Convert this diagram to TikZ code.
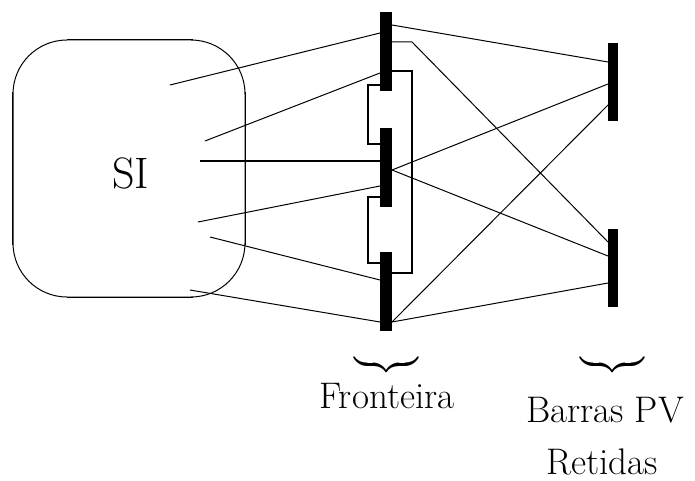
\documentclass[tikz,border=0pt]{standalone}
\usepackage{amsmath}
\usepackage{fontspec}
\begin{document}
\begin{tikzpicture}[x=0.5pt,y=-0.5pt,
  thinline/.style={line width=0.5pt},
  thickline/.style={line width=1pt},
  fbar/.style={fill=black,draw=none,minimum width=6pt,minimum height=39.5pt,inner sep=0pt,outer sep=0pt},
  pvbar/.style={fill=black,draw=none,minimum width=5pt,minimum height=39pt,inner sep=0pt,outer sep=0pt},
  lbl/.style={font=\fontsize{18.5}{22}\selectfont,inner sep=0pt},
  brc/.style={font=\fontsize{15}{18}\selectfont,inner sep=0pt},
]
\useasboundingbox (0,0) rectangle (695,481);

% internal system: rounded box, thin corners and heavier straight sides
\node[draw,thinline,rounded corners=27pt,minimum width=116pt,minimum height=128.5pt,inner sep=0pt] (si) at (129,168.5) {};
\draw[line width=0.9pt] ([yshift=-26.5pt]si.north west) -- ([yshift=26.5pt]si.south west);
\draw[line width=0.9pt] ([yshift=-26.5pt]si.north east) -- ([yshift=26.5pt]si.south east);
\draw[line width=0.9pt] ([xshift=27pt]si.north west) -- ([xshift=-26.5pt]si.north east);
\draw[line width=0.9pt] ([xshift=27pt]si.south west) -- ([xshift=-26.5pt]si.south east);
\node[font=\fontsize{22}{26}\selectfont,inner sep=0pt,anchor=base] (silbl) at (130.5,188) {SI};

% boundary buses
\node[fbar] (b1) at (386,51.5) {};
\node[fbar] (b2) at (386,167.5) {};
\node[fbar] (b3) at (386,291) {};

% retained PV buses
\node[pvbar] (pa) at (613,82) {};
\node[pvbar] (pb) at (613,268) {};

% connections from inside the internal system
\coordinate (s1) at (170,85);
\coordinate (s2) at (205,141);
\coordinate (s3) at (200,161);
\coordinate (s4) at (198,222);
\coordinate (s5) at (210,237);
\coordinate (s6) at (190,290);
\draw[thinline] (s1) -- (b1.west |- 0,33);
\draw[thinline] (s2) -- (b1.west |- 0,73);
\draw[thickline] (s3) -- (b2.west |- 0,161);
\draw[thinline] (s4) -- (b2.west |- 0,186);
\draw[thinline] (s5) -- (b3.west |- 0,280);
\draw[thinline] (s6) -- (b3.west |- 0,322);

% links between boundary buses
\draw[thickline] (b1.east |- 0,71) -- ++(20,0) |- (b3.east |- 0,273);
\draw[thickline] (b1.west |- 0,85) -- ++(-12,0) |- (b2.west |- 0,144);
\draw[thickline] (b2.west |- 0,197) -- ++(-12,0) |- (b3.west |- 0,263);

% boundary buses to retained PV buses
\draw[thinline] (b1.east |- 0,25) -- (pa.west |- 0,62);
\draw[thinline] (b1.east |- 0,42) -- ++(20,0) -- (pb.west |- 0,242);
\draw[thinline] (b2.east |- 0,170) -- (pa.west |- 0,84);
\draw[thinline] (b2.east |- 0,170) -- (pb.west |- 0,256);
\draw[thinline] (b3.east |- 0,322) -- (pa.west |- 0,105);
\draw[thinline] (b3.east |- 0,322) -- (pb.west |- 0,283);

% braces and captions
\node[brc] (brf) at (386,364.5) {$\underbrace{\hbox to 32pt{}}$};
\node[brc] (brp) at (612.5,364.5) {$\underbrace{\hbox to 32pt{}}$};
\node[lbl,anchor=base] (tf) at (387,408) {Fronteira};
\node[lbl,anchor=base] (tp) at (605,422) {Barras PV};
\node[lbl,anchor=base] (tr) at (602,474) {Retidas};
\end{tikzpicture}
\end{document}
